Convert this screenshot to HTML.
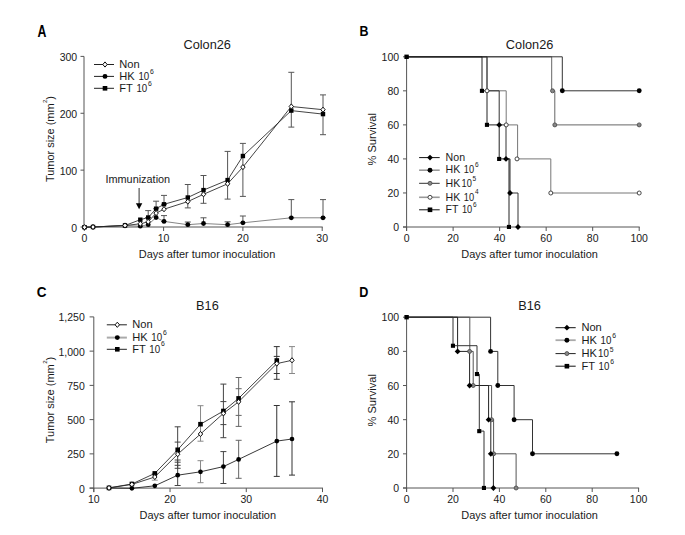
<!DOCTYPE html>
<html><head><meta charset="utf-8"><style>
html,body{margin:0;padding:0;background:#fff;}
svg{display:block;font-family:"Liberation Sans", sans-serif;}
</style></head><body>
<svg width="685" height="535" viewBox="0 0 685 535">
<rect width="685" height="535" fill="#fff"/>
<text x="0" y="0" font-size="16.2" font-weight="bold" fill="#000" transform="translate(37.4,36.6) scale(0.76,1)">A</text>
<text x="207.2" y="48.7" font-size="12.2" text-anchor="middle" textLength="47.5" lengthAdjust="spacingAndGlyphs" fill="#1a1a1a">Colon26</text>
<line x1="84" y1="56.4" x2="84" y2="227.5" stroke="#555" stroke-width="1"/>
<line x1="84" y1="227.0" x2="322.7" y2="227.0" stroke="#555" stroke-width="1"/>
<line x1="80.5" y1="227.0" x2="84" y2="227.0" stroke="#555" stroke-width="1"/>
<text x="77.2" y="231.6" font-size="10.5" text-anchor="end" fill="#1a1a1a">0</text>
<line x1="80.5" y1="170.13333333333333" x2="84" y2="170.13333333333333" stroke="#555" stroke-width="1"/>
<text x="77.2" y="174.73333333333332" font-size="10.5" text-anchor="end" fill="#1a1a1a">100</text>
<line x1="80.5" y1="113.26666666666667" x2="84" y2="113.26666666666667" stroke="#555" stroke-width="1"/>
<text x="77.2" y="117.86666666666666" font-size="10.5" text-anchor="end" fill="#1a1a1a">200</text>
<line x1="80.5" y1="56.400000000000006" x2="84" y2="56.400000000000006" stroke="#555" stroke-width="1"/>
<text x="77.2" y="61.00000000000001" font-size="10.5" text-anchor="end" fill="#1a1a1a">300</text>
<line x1="84.3" y1="227.0" x2="84.3" y2="231.0" stroke="#555" stroke-width="1"/>
<text x="84.3" y="241.8" font-size="10.5" text-anchor="middle" fill="#1a1a1a">0</text>
<line x1="163.6" y1="227.0" x2="163.6" y2="231.0" stroke="#555" stroke-width="1"/>
<text x="163.6" y="241.8" font-size="10.5" text-anchor="middle" fill="#1a1a1a">10</text>
<line x1="242.89999999999998" y1="227.0" x2="242.89999999999998" y2="231.0" stroke="#555" stroke-width="1"/>
<text x="242.89999999999998" y="241.8" font-size="10.5" text-anchor="middle" fill="#1a1a1a">20</text>
<line x1="322.2" y1="227.0" x2="322.2" y2="231.0" stroke="#555" stroke-width="1"/>
<text x="322.2" y="241.8" font-size="10.5" text-anchor="middle" fill="#1a1a1a">30</text>
<text x="207.0" y="258" font-size="10.9" text-anchor="middle" textLength="136.5" lengthAdjust="spacingAndGlyphs" fill="#1a1a1a">Days after tumor inoculation</text>
<text transform="translate(53.8,139) rotate(-90)" font-size="10.9" text-anchor="middle" textLength="86" lengthAdjust="spacingAndGlyphs" fill="#1a1a1a">Tumor size (mm<tspan dx="0.5" dy="-7" font-size="6">2</tspan><tspan dy="7">)</tspan></text>
<line x1="94" y1="64.5" x2="114" y2="64.5" stroke="#222" stroke-width="1"/>
<path d="M105.0,61.9L107.2,64.5L105.0,67.1L102.8,64.5Z" fill="#fff" stroke="#111" stroke-width="1"/>
<text x="0" y="0" font-size="10.6" fill="#1a1a1a" word-spacing="0.6" transform="translate(119.3,68.1) scale(1.05,1)">Non</text>
<line x1="94" y1="76.4" x2="114" y2="76.4" stroke="#222" stroke-width="1"/>
<circle cx="105.0" cy="76.4" r="2.45" fill="#000"/>
<text x="0" y="0" font-size="10.6" fill="#1a1a1a" word-spacing="0.6" transform="translate(119.3,80.0) scale(1.05,1)">HK <tspan textLength="10.3" lengthAdjust="spacingAndGlyphs">10</tspan><tspan dx="0.8" dy="-6.0" font-size="6.5">6</tspan></text>
<line x1="94" y1="88.3" x2="114" y2="88.3" stroke="#222" stroke-width="1"/>
<rect x="102.7" y="86.0" width="4.6" height="4.6" fill="#000"/>
<text x="0" y="0" font-size="10.6" fill="#1a1a1a" word-spacing="0.6" transform="translate(119.3,91.89999999999999) scale(1.05,1)">FT <tspan textLength="10.3" lengthAdjust="spacingAndGlyphs">10</tspan><tspan dx="0.8" dy="-6.0" font-size="6.5">6</tspan></text>
<text x="137.8" y="182.9" font-size="10.9" text-anchor="middle" fill="#1a1a1a">Immunization</text>
<line x1="139.1" y1="188" x2="139.1" y2="204" stroke="#333" stroke-width="1"/>
<path d="M135.9,203.2L142.3,203.2L139.1,209.2Z" fill="#000"/>
<line x1="148.2" y1="210.6" x2="148.2" y2="217.5" stroke="#555" stroke-width="1"/>
<line x1="145.2" y1="210.6" x2="151.2" y2="210.6" stroke="#555" stroke-width="1"/>
<line x1="145.2" y1="217.5" x2="151.2" y2="217.5" stroke="#555" stroke-width="1"/>
<line x1="156.1" y1="201.2" x2="156.1" y2="208.7" stroke="#555" stroke-width="1"/>
<line x1="153.1" y1="201.2" x2="159.1" y2="201.2" stroke="#555" stroke-width="1"/>
<line x1="153.1" y1="208.7" x2="159.1" y2="208.7" stroke="#555" stroke-width="1"/>
<line x1="164.0" y1="195.4" x2="164.0" y2="204.3" stroke="#555" stroke-width="1"/>
<line x1="161.0" y1="195.4" x2="167.0" y2="195.4" stroke="#555" stroke-width="1"/>
<line x1="161.0" y1="204.3" x2="167.0" y2="204.3" stroke="#555" stroke-width="1"/>
<line x1="187.8" y1="184.5" x2="187.8" y2="207.9" stroke="#555" stroke-width="1"/>
<line x1="184.8" y1="184.5" x2="190.8" y2="184.5" stroke="#555" stroke-width="1"/>
<line x1="184.8" y1="207.9" x2="190.8" y2="207.9" stroke="#555" stroke-width="1"/>
<line x1="203.5" y1="175.5" x2="203.5" y2="203.3" stroke="#555" stroke-width="1"/>
<line x1="200.5" y1="175.5" x2="206.5" y2="175.5" stroke="#555" stroke-width="1"/>
<line x1="200.5" y1="203.3" x2="206.5" y2="203.3" stroke="#555" stroke-width="1"/>
<line x1="227.6" y1="151.4" x2="227.6" y2="199.1" stroke="#555" stroke-width="1"/>
<line x1="224.6" y1="151.4" x2="230.6" y2="151.4" stroke="#555" stroke-width="1"/>
<line x1="224.6" y1="199.1" x2="230.6" y2="199.1" stroke="#555" stroke-width="1"/>
<line x1="242.9" y1="143.4" x2="242.9" y2="196.4" stroke="#555" stroke-width="1"/>
<line x1="239.9" y1="143.4" x2="245.9" y2="143.4" stroke="#555" stroke-width="1"/>
<line x1="239.9" y1="196.4" x2="245.9" y2="196.4" stroke="#555" stroke-width="1"/>
<line x1="291.3" y1="72.3" x2="291.3" y2="127.1" stroke="#555" stroke-width="1"/>
<line x1="288.3" y1="72.3" x2="294.3" y2="72.3" stroke="#555" stroke-width="1"/>
<line x1="288.3" y1="127.1" x2="294.3" y2="127.1" stroke="#555" stroke-width="1"/>
<line x1="323.0" y1="94.9" x2="323.0" y2="134.7" stroke="#555" stroke-width="1"/>
<line x1="320.0" y1="94.9" x2="326.0" y2="94.9" stroke="#555" stroke-width="1"/>
<line x1="320.0" y1="134.7" x2="326.0" y2="134.7" stroke="#555" stroke-width="1"/>
<line x1="164.0" y1="215.6" x2="164.0" y2="221.4" stroke="#555" stroke-width="1"/>
<line x1="161.0" y1="215.6" x2="167.0" y2="215.6" stroke="#555" stroke-width="1"/>
<line x1="161.0" y1="221.4" x2="167.0" y2="221.4" stroke="#555" stroke-width="1"/>
<line x1="187.8" y1="222" x2="187.8" y2="224.7" stroke="#555" stroke-width="1"/>
<line x1="184.8" y1="222" x2="190.8" y2="222" stroke="#555" stroke-width="1"/>
<line x1="184.8" y1="224.7" x2="190.8" y2="224.7" stroke="#555" stroke-width="1"/>
<line x1="203.5" y1="217.8" x2="203.5" y2="223.5" stroke="#555" stroke-width="1"/>
<line x1="200.5" y1="217.8" x2="206.5" y2="217.8" stroke="#555" stroke-width="1"/>
<line x1="200.5" y1="223.5" x2="206.5" y2="223.5" stroke="#555" stroke-width="1"/>
<line x1="227.6" y1="221.8" x2="227.6" y2="224.7" stroke="#555" stroke-width="1"/>
<line x1="224.6" y1="221.8" x2="230.6" y2="221.8" stroke="#555" stroke-width="1"/>
<line x1="224.6" y1="224.7" x2="230.6" y2="224.7" stroke="#555" stroke-width="1"/>
<line x1="242.9" y1="216" x2="242.9" y2="222.8" stroke="#555" stroke-width="1"/>
<line x1="239.9" y1="216" x2="245.9" y2="216" stroke="#555" stroke-width="1"/>
<line x1="239.9" y1="222.8" x2="245.9" y2="222.8" stroke="#555" stroke-width="1"/>
<line x1="291.3" y1="199.6" x2="291.3" y2="217.8" stroke="#555" stroke-width="1"/>
<line x1="288.3" y1="199.6" x2="294.3" y2="199.6" stroke="#555" stroke-width="1"/>
<line x1="288.3" y1="217.8" x2="294.3" y2="217.8" stroke="#555" stroke-width="1"/>
<line x1="323.0" y1="199.6" x2="323.0" y2="217.8" stroke="#555" stroke-width="1"/>
<line x1="320.0" y1="199.6" x2="326.0" y2="199.6" stroke="#555" stroke-width="1"/>
<line x1="320.0" y1="217.8" x2="326.0" y2="217.8" stroke="#555" stroke-width="1"/>
<polyline points="84.5,227.2 93.0,227.0 125.0,225.5 140.3,226.2 148.2,224.7 156.1,217.5 164.0,221.4 187.8,224.7 203.5,223.5 227.6,224.7 242.9,222.8 291.3,217.8 323.0,217.8" fill="none" stroke="#777" stroke-width="0.9" stroke-linejoin="miter"/>
<polyline points="84.5,227.2 93.0,227.0 125.0,225.5 140.3,219.7 148.2,217.5 156.1,208.7 164.0,204.3 187.8,197.5 203.5,190.1 227.6,180.1 242.9,156.0 291.3,110.6 323.0,114.1" fill="none" stroke="#222" stroke-width="0.85" stroke-linejoin="miter"/>
<polyline points="84.5,227.2 93.0,227.0 125.0,225.5 140.3,223.8 148.2,221.8 156.1,213.1 164.0,209.2 187.8,201.6 203.5,194.3 227.6,183.8 242.9,167.1 291.3,106.5 323.0,109.7" fill="none" stroke="#222" stroke-width="0.85" stroke-linejoin="miter"/>
<circle cx="84.5" cy="227.2" r="2.4" fill="#000"/>
<circle cx="93.0" cy="227.0" r="2.4" fill="#000"/>
<circle cx="125.0" cy="225.5" r="2.4" fill="#000"/>
<circle cx="140.3" cy="226.2" r="2.4" fill="#000"/>
<circle cx="148.2" cy="224.7" r="2.4" fill="#000"/>
<circle cx="156.1" cy="217.5" r="2.4" fill="#000"/>
<circle cx="164.0" cy="221.4" r="2.4" fill="#000"/>
<circle cx="187.8" cy="224.7" r="2.4" fill="#000"/>
<circle cx="203.5" cy="223.5" r="2.4" fill="#000"/>
<circle cx="227.6" cy="224.7" r="2.4" fill="#000"/>
<circle cx="242.9" cy="222.8" r="2.4" fill="#000"/>
<circle cx="291.3" cy="217.8" r="2.4" fill="#000"/>
<circle cx="323.0" cy="217.8" r="2.4" fill="#000"/>
<rect x="82.3" y="225.0" width="4.4" height="4.4" fill="#000"/>
<rect x="90.8" y="224.8" width="4.4" height="4.4" fill="#000"/>
<rect x="122.8" y="223.3" width="4.4" height="4.4" fill="#000"/>
<rect x="138.1" y="217.5" width="4.4" height="4.4" fill="#000"/>
<rect x="146.0" y="215.3" width="4.4" height="4.4" fill="#000"/>
<rect x="153.9" y="206.5" width="4.4" height="4.4" fill="#000"/>
<rect x="161.8" y="202.1" width="4.4" height="4.4" fill="#000"/>
<rect x="185.6" y="195.3" width="4.4" height="4.4" fill="#000"/>
<rect x="201.3" y="187.9" width="4.4" height="4.4" fill="#000"/>
<rect x="225.4" y="177.9" width="4.4" height="4.4" fill="#000"/>
<rect x="240.7" y="153.8" width="4.4" height="4.4" fill="#000"/>
<rect x="289.1" y="108.4" width="4.4" height="4.4" fill="#000"/>
<rect x="320.8" y="111.9" width="4.4" height="4.4" fill="#000"/>
<path d="M84.5,224.6L86.7,227.2L84.5,229.8L82.3,227.2Z" fill="#fff" stroke="#111" stroke-width="1"/>
<path d="M93.0,224.4L95.2,227.0L93.0,229.6L90.8,227.0Z" fill="#fff" stroke="#111" stroke-width="1"/>
<path d="M125.0,222.9L127.2,225.5L125.0,228.1L122.8,225.5Z" fill="#fff" stroke="#111" stroke-width="1"/>
<path d="M140.3,221.2L142.5,223.8L140.3,226.4L138.1,223.8Z" fill="#fff" stroke="#111" stroke-width="1"/>
<path d="M148.2,219.2L150.4,221.8L148.2,224.4L146.0,221.8Z" fill="#fff" stroke="#111" stroke-width="1"/>
<path d="M156.1,210.5L158.3,213.1L156.1,215.7L153.9,213.1Z" fill="#fff" stroke="#111" stroke-width="1"/>
<path d="M164.0,206.6L166.2,209.2L164.0,211.8L161.8,209.2Z" fill="#fff" stroke="#111" stroke-width="1"/>
<path d="M187.8,199.0L190.0,201.6L187.8,204.2L185.6,201.6Z" fill="#fff" stroke="#111" stroke-width="1"/>
<path d="M203.5,191.7L205.7,194.3L203.5,196.9L201.3,194.3Z" fill="#fff" stroke="#111" stroke-width="1"/>
<path d="M227.6,181.2L229.8,183.8L227.6,186.4L225.4,183.8Z" fill="#fff" stroke="#111" stroke-width="1"/>
<path d="M242.9,164.5L245.1,167.1L242.9,169.7L240.7,167.1Z" fill="#fff" stroke="#111" stroke-width="1"/>
<path d="M291.3,103.9L293.5,106.5L291.3,109.1L289.1,106.5Z" fill="#fff" stroke="#111" stroke-width="1"/>
<path d="M323.0,107.1L325.2,109.7L323.0,112.3L320.8,109.7Z" fill="#fff" stroke="#111" stroke-width="1"/>
<text x="0" y="0" font-size="14.8" font-weight="bold" fill="#000" transform="translate(359.4,36.3) scale(0.84,1)">B</text>
<text x="529.6" y="48.7" font-size="12.2" text-anchor="middle" textLength="47.5" lengthAdjust="spacingAndGlyphs" fill="#1a1a1a">Colon26</text>
<line x1="406.6" y1="56.8" x2="406.6" y2="231.0" stroke="#555" stroke-width="1"/>
<line x1="403" y1="227.0" x2="639.7" y2="227.0" stroke="#555" stroke-width="1"/>
<line x1="403" y1="227.0" x2="406.6" y2="227.0" stroke="#555" stroke-width="1"/>
<text x="399.1" y="231.1" font-size="10.5" text-anchor="end" fill="#1a1a1a">0</text>
<line x1="403" y1="192.96" x2="406.6" y2="192.96" stroke="#555" stroke-width="1"/>
<text x="399.1" y="197.06" font-size="10.5" text-anchor="end" fill="#1a1a1a">20</text>
<line x1="403" y1="158.92000000000002" x2="406.6" y2="158.92000000000002" stroke="#555" stroke-width="1"/>
<text x="399.1" y="163.02" font-size="10.5" text-anchor="end" fill="#1a1a1a">40</text>
<line x1="403" y1="124.88" x2="406.6" y2="124.88" stroke="#555" stroke-width="1"/>
<text x="399.1" y="128.98" font-size="10.5" text-anchor="end" fill="#1a1a1a">60</text>
<line x1="403" y1="90.84" x2="406.6" y2="90.84" stroke="#555" stroke-width="1"/>
<text x="399.1" y="94.94" font-size="10.5" text-anchor="end" fill="#1a1a1a">80</text>
<line x1="403" y1="56.80000000000001" x2="406.6" y2="56.80000000000001" stroke="#555" stroke-width="1"/>
<text x="399.1" y="60.90000000000001" font-size="10.5" text-anchor="end" fill="#1a1a1a">100</text>
<line x1="406.6" y1="227.0" x2="406.6" y2="231.0" stroke="#555" stroke-width="1"/>
<text x="406.6" y="242" font-size="10.5" text-anchor="middle" fill="#1a1a1a">0</text>
<line x1="453.12" y1="227.0" x2="453.12" y2="231.0" stroke="#555" stroke-width="1"/>
<text x="453.12" y="242" font-size="10.5" text-anchor="middle" fill="#1a1a1a">20</text>
<line x1="499.64000000000004" y1="227.0" x2="499.64000000000004" y2="231.0" stroke="#555" stroke-width="1"/>
<text x="499.64000000000004" y="242" font-size="10.5" text-anchor="middle" fill="#1a1a1a">40</text>
<line x1="546.1600000000001" y1="227.0" x2="546.1600000000001" y2="231.0" stroke="#555" stroke-width="1"/>
<text x="546.1600000000001" y="242" font-size="10.5" text-anchor="middle" fill="#1a1a1a">60</text>
<line x1="592.6800000000001" y1="227.0" x2="592.6800000000001" y2="231.0" stroke="#555" stroke-width="1"/>
<text x="592.6800000000001" y="242" font-size="10.5" text-anchor="middle" fill="#1a1a1a">80</text>
<line x1="639.2" y1="227.0" x2="639.2" y2="231.0" stroke="#555" stroke-width="1"/>
<text x="639.2" y="242" font-size="10.5" text-anchor="middle" fill="#1a1a1a">100</text>
<text x="529.6" y="258" font-size="10.9" text-anchor="middle" textLength="136.5" lengthAdjust="spacingAndGlyphs" fill="#1a1a1a">Days after tumor inoculation</text>
<text x="0" y="0" font-size="10.9" text-anchor="middle" textLength="52.3" lengthAdjust="spacingAndGlyphs" fill="#1a1a1a" transform="translate(376.3,139.3) rotate(-90)">% Survival</text>
<polyline points="406.6,56.8 487.0,56.8 487.0,90.8 506.2,90.8 506.2,124.9 517.6,124.9 517.6,158.9 550.8,158.9 550.8,193.0 639.2,193.0" fill="none" stroke="#777" stroke-width="1" stroke-linejoin="miter"/>
<polyline points="406.6,56.8 551.7,56.8 551.7,90.8 554.8,90.8 554.8,124.9 639.2,124.9" fill="none" stroke="#666" stroke-width="1" stroke-linejoin="miter"/>
<polyline points="406.6,56.8 562.3,56.8 562.3,90.8 639.2,90.8" fill="none" stroke="#333" stroke-width="1" stroke-linejoin="miter"/>
<polyline points="406.6,56.8 487.0,56.8 487.0,90.8 499.2,90.8 499.2,124.9 506.0,124.9 506.0,158.9 510.0,158.9 510.0,193.0 518.0,193.0 518.0,227.0" fill="none" stroke="#333" stroke-width="1" stroke-linejoin="miter"/>
<polyline points="406.6,56.8 482.0,56.8 482.0,90.8 487.0,90.8 487.0,124.9 499.2,124.9 499.2,158.9 509.0,158.9 509.0,227.0" fill="none" stroke="#222" stroke-width="1" stroke-linejoin="miter"/>
<path d="M499.2,122.0L502.1,124.9L499.2,127.8L496.3,124.9Z" fill="#000"/>
<path d="M506.0,156.0L508.9,158.9L506.0,161.8L503.1,158.9Z" fill="#000"/>
<path d="M510.0,190.1L512.9,193.0L510.0,195.9L507.1,193.0Z" fill="#000"/>
<path d="M518.0,224.1L520.9,227.0L518.0,229.9L515.1,227.0Z" fill="#000"/>
<rect x="479.9" y="88.8" width="4.1" height="4.1" fill="#000"/>
<rect x="484.9" y="122.8" width="4.1" height="4.1" fill="#000"/>
<rect x="497.1" y="156.9" width="4.1" height="4.1" fill="#000"/>
<rect x="506.9" y="224.9" width="4.1" height="4.1" fill="#000"/>
<circle cx="487.0" cy="90.8" r="2.0" fill="#fff" stroke="#333" stroke-width="0.9"/>
<circle cx="506.2" cy="124.9" r="2.0" fill="#fff" stroke="#333" stroke-width="0.9"/>
<circle cx="517.0" cy="158.9" r="2.0" fill="#fff" stroke="#333" stroke-width="0.9"/>
<circle cx="550.8" cy="193.0" r="2.0" fill="#fff" stroke="#333" stroke-width="0.9"/>
<circle cx="639.2" cy="193.0" r="2.0" fill="#fff" stroke="#333" stroke-width="0.9"/>
<circle cx="552.5" cy="90.8" r="2.0" fill="#888" stroke="#444" stroke-width="0.8"/>
<circle cx="554.8" cy="124.9" r="2.0" fill="#888" stroke="#444" stroke-width="0.8"/>
<circle cx="639.2" cy="124.9" r="2.0" fill="#888" stroke="#444" stroke-width="0.8"/>
<circle cx="562.3" cy="90.8" r="2.45" fill="#000"/>
<circle cx="639.2" cy="90.8" r="2.45" fill="#000"/>
<rect x="404.4" y="54.6" width="4.4" height="4.4" fill="#000"/>
<line x1="419.1" y1="157.6" x2="439.7" y2="157.6" stroke="#111" stroke-width="1"/>
<path d="M430.0,154.7L432.9,157.6L430.0,160.5L427.1,157.6Z" fill="#000"/>
<text x="0" y="0" font-size="10.6" fill="#1a1a1a" word-spacing="0.6" transform="translate(445.6,160.8) scale(1.0,1)">Non</text>
<line x1="419.1" y1="170.2" x2="439.7" y2="170.2" stroke="#999" stroke-width="1.6"/>
<circle cx="430.0" cy="170.2" r="2.45" fill="#000"/>
<text x="0" y="0" font-size="10.6" fill="#1a1a1a" word-spacing="0.6" transform="translate(445.6,173.4) scale(1.0,1)">HK <tspan textLength="10.3" lengthAdjust="spacingAndGlyphs">10</tspan><tspan dx="0.8" dy="-6.2" font-size="6.5">6</tspan></text>
<line x1="419.1" y1="183.3" x2="439.7" y2="183.3" stroke="#333" stroke-width="1"/>
<circle cx="430.0" cy="183.3" r="2.0" fill="#888" stroke="#444" stroke-width="0.8"/>
<text x="0" y="0" font-size="10.6" fill="#1a1a1a" word-spacing="0.6" transform="translate(445.6,187.0) scale(1.0,1)">HK<tspan dx="1.2"><tspan textLength="10.3" lengthAdjust="spacingAndGlyphs">10</tspan></tspan><tspan dx="0.8" dy="-6.2" font-size="6.5">5</tspan></text>
<line x1="419.1" y1="197.3" x2="439.7" y2="197.3" stroke="#999" stroke-width="1.6"/>
<circle cx="430.0" cy="197.3" r="2.0" fill="#fff" stroke="#333" stroke-width="0.9"/>
<text x="0" y="0" font-size="10.6" fill="#1a1a1a" word-spacing="0.6" transform="translate(445.6,200.6) scale(1.0,1)">HK <tspan textLength="10.3" lengthAdjust="spacingAndGlyphs">10</tspan><tspan dx="0.8" dy="-6.2" font-size="6.5">4</tspan></text>
<line x1="419.1" y1="209.8" x2="439.7" y2="209.8" stroke="#111" stroke-width="1"/>
<rect x="427.7" y="207.5" width="4.6" height="4.6" fill="#000"/>
<text x="0" y="0" font-size="10.6" fill="#1a1a1a" word-spacing="0.6" transform="translate(445.6,213.4) scale(1.0,1)">FT <tspan textLength="10.3" lengthAdjust="spacingAndGlyphs">10</tspan><tspan dx="0.8" dy="-6.2" font-size="6.5">6</tspan></text>
<text x="0" y="0" font-size="15" font-weight="bold" fill="#000" transform="translate(36.8,297.3) scale(0.9,1)">C</text>
<text x="207.4" y="309.7" font-size="12.2" text-anchor="middle" textLength="22.6" lengthAdjust="spacingAndGlyphs" fill="#1a1a1a">B16</text>
<line x1="93.8" y1="316.9" x2="93.8" y2="492.1" stroke="#555" stroke-width="1"/>
<line x1="89.6" y1="488.1" x2="323.0" y2="488.1" stroke="#555" stroke-width="1"/>
<line x1="89.6" y1="488.1" x2="93.8" y2="488.1" stroke="#555" stroke-width="1"/>
<text x="84.8" y="492.6" font-size="10.5" text-anchor="end" fill="#1a1a1a">0</text>
<line x1="89.6" y1="453.86" x2="93.8" y2="453.86" stroke="#555" stroke-width="1"/>
<text x="84.8" y="458.36" font-size="10.5" text-anchor="end" fill="#1a1a1a">250</text>
<line x1="89.6" y1="419.62" x2="93.8" y2="419.62" stroke="#555" stroke-width="1"/>
<text x="84.8" y="424.12" font-size="10.5" text-anchor="end" fill="#1a1a1a">500</text>
<line x1="89.6" y1="385.38" x2="93.8" y2="385.38" stroke="#555" stroke-width="1"/>
<text x="84.8" y="389.88" font-size="10.5" text-anchor="end" fill="#1a1a1a">750</text>
<line x1="89.6" y1="351.14" x2="93.8" y2="351.14" stroke="#555" stroke-width="1"/>
<text x="84.8" y="355.64" font-size="10.5" text-anchor="end" fill="#1a1a1a">1,000</text>
<line x1="89.6" y1="316.9" x2="93.8" y2="316.9" stroke="#555" stroke-width="1"/>
<text x="84.8" y="321.4" font-size="10.5" text-anchor="end" fill="#1a1a1a">1,250</text>
<line x1="93.8" y1="488.1" x2="93.8" y2="492.1" stroke="#555" stroke-width="1"/>
<text x="93.8" y="502.6" font-size="10.5" text-anchor="middle" fill="#1a1a1a">10</text>
<line x1="170.03333333333333" y1="488.1" x2="170.03333333333333" y2="492.1" stroke="#555" stroke-width="1"/>
<text x="170.03333333333333" y="502.6" font-size="10.5" text-anchor="middle" fill="#1a1a1a">20</text>
<line x1="246.26666666666665" y1="488.1" x2="246.26666666666665" y2="492.1" stroke="#555" stroke-width="1"/>
<text x="246.26666666666665" y="502.6" font-size="10.5" text-anchor="middle" fill="#1a1a1a">30</text>
<line x1="322.5" y1="488.1" x2="322.5" y2="492.1" stroke="#555" stroke-width="1"/>
<text x="322.5" y="502.6" font-size="10.5" text-anchor="middle" fill="#1a1a1a">40</text>
<text x="207.8" y="519.1" font-size="10.9" text-anchor="middle" textLength="136.5" lengthAdjust="spacingAndGlyphs" fill="#1a1a1a">Days after tumor inoculation</text>
<text transform="translate(54,400) rotate(-90)" font-size="10.9" text-anchor="middle" textLength="86.5" lengthAdjust="spacingAndGlyphs" fill="#1a1a1a">Tumor size (mm<tspan dx="0.5" dy="-7" font-size="6">2</tspan><tspan dy="7">)</tspan></text>
<line x1="106.8" y1="324.8" x2="126.9" y2="324.8" stroke="#222" stroke-width="1"/>
<path d="M117.3,322.2L119.5,324.8L117.3,327.4L115.1,324.8Z" fill="#fff" stroke="#111" stroke-width="1"/>
<text x="0" y="0" font-size="10.6" fill="#1a1a1a" word-spacing="0.6" transform="translate(132.2,328.40000000000003) scale(1.05,1)">Non</text>
<line x1="106.8" y1="337.6" x2="126.9" y2="337.6" stroke="#aaa" stroke-width="2"/>
<circle cx="117.3" cy="337.6" r="2.45" fill="#000"/>
<text x="0" y="0" font-size="10.6" fill="#1a1a1a" word-spacing="0.6" transform="translate(132.2,341.20000000000005) scale(1.05,1)">HK <tspan textLength="10.3" lengthAdjust="spacingAndGlyphs">10</tspan><tspan dx="0.8" dy="-6.6" font-size="6.5">6</tspan></text>
<line x1="106.8" y1="349.3" x2="126.9" y2="349.3" stroke="#222" stroke-width="1"/>
<rect x="115.0" y="347.0" width="4.6" height="4.6" fill="#000"/>
<text x="0" y="0" font-size="10.6" fill="#1a1a1a" word-spacing="0.6" transform="translate(132.2,352.90000000000003) scale(1.05,1)">FT <tspan textLength="10.3" lengthAdjust="spacingAndGlyphs">10</tspan><tspan dx="0.8" dy="-6.6" font-size="6.5">6</tspan></text>
<line x1="154.78666666666666" y1="473.4" x2="154.78666666666666" y2="480.2" stroke="#999" stroke-width="1"/>
<line x1="151.78666666666666" y1="473.4" x2="157.78666666666666" y2="473.4" stroke="#999" stroke-width="1"/>
<line x1="151.78666666666666" y1="480.2" x2="157.78666666666666" y2="480.2" stroke="#999" stroke-width="1"/>
<line x1="177.65666666666664" y1="426.8" x2="177.65666666666664" y2="468.3" stroke="#444" stroke-width="1"/>
<line x1="174.65666666666664" y1="426.8" x2="180.65666666666664" y2="426.8" stroke="#444" stroke-width="1"/>
<line x1="174.65666666666664" y1="442.1" x2="180.65666666666664" y2="442.1" stroke="#444" stroke-width="1"/>
<line x1="174.65666666666664" y1="462.2" x2="180.65666666666664" y2="462.2" stroke="#444" stroke-width="1"/>
<line x1="174.65666666666664" y1="465.3" x2="180.65666666666664" y2="465.3" stroke="#444" stroke-width="1"/>
<line x1="174.65666666666664" y1="468.3" x2="180.65666666666664" y2="468.3" stroke="#444" stroke-width="1"/>
<line x1="177.65666666666664" y1="460" x2="177.65666666666664" y2="485.5" stroke="#444" stroke-width="1"/>
<line x1="174.65666666666664" y1="460" x2="180.65666666666664" y2="460" stroke="#444" stroke-width="1"/>
<line x1="174.65666666666664" y1="485.5" x2="180.65666666666664" y2="485.5" stroke="#444" stroke-width="1"/>
<line x1="200.52666666666664" y1="405.7" x2="200.52666666666664" y2="441.2" stroke="#888" stroke-width="1"/>
<line x1="197.52666666666664" y1="405.7" x2="203.52666666666664" y2="405.7" stroke="#888" stroke-width="1"/>
<line x1="197.52666666666664" y1="441.2" x2="203.52666666666664" y2="441.2" stroke="#888" stroke-width="1"/>
<line x1="200.52666666666664" y1="460.7" x2="200.52666666666664" y2="482.7" stroke="#888" stroke-width="1"/>
<line x1="197.52666666666664" y1="460.7" x2="203.52666666666664" y2="460.7" stroke="#888" stroke-width="1"/>
<line x1="197.52666666666664" y1="482.7" x2="203.52666666666664" y2="482.7" stroke="#888" stroke-width="1"/>
<line x1="223.39666666666665" y1="384.1" x2="223.39666666666665" y2="437.7" stroke="#444" stroke-width="1"/>
<line x1="220.39666666666665" y1="384.1" x2="226.39666666666665" y2="384.1" stroke="#444" stroke-width="1"/>
<line x1="220.39666666666665" y1="401.6" x2="226.39666666666665" y2="401.6" stroke="#444" stroke-width="1"/>
<line x1="220.39666666666665" y1="424.6" x2="226.39666666666665" y2="424.6" stroke="#444" stroke-width="1"/>
<line x1="220.39666666666665" y1="437.7" x2="226.39666666666665" y2="437.7" stroke="#444" stroke-width="1"/>
<line x1="223.39666666666665" y1="451.6" x2="223.39666666666665" y2="483.5" stroke="#444" stroke-width="1"/>
<line x1="220.39666666666665" y1="451.6" x2="226.39666666666665" y2="451.6" stroke="#444" stroke-width="1"/>
<line x1="220.39666666666665" y1="483.5" x2="226.39666666666665" y2="483.5" stroke="#444" stroke-width="1"/>
<line x1="238.64333333333332" y1="377.5" x2="238.64333333333332" y2="426.4" stroke="#666" stroke-width="1"/>
<line x1="235.64333333333332" y1="377.5" x2="241.64333333333332" y2="377.5" stroke="#666" stroke-width="1"/>
<line x1="235.64333333333332" y1="388.7" x2="241.64333333333332" y2="388.7" stroke="#666" stroke-width="1"/>
<line x1="235.64333333333332" y1="415.4" x2="241.64333333333332" y2="415.4" stroke="#666" stroke-width="1"/>
<line x1="235.64333333333332" y1="426.4" x2="241.64333333333332" y2="426.4" stroke="#666" stroke-width="1"/>
<line x1="238.64333333333332" y1="440.3" x2="238.64333333333332" y2="478.3" stroke="#666" stroke-width="1"/>
<line x1="235.64333333333332" y1="440.3" x2="241.64333333333332" y2="440.3" stroke="#666" stroke-width="1"/>
<line x1="235.64333333333332" y1="478.3" x2="241.64333333333332" y2="478.3" stroke="#666" stroke-width="1"/>
<line x1="276.76" y1="346.6" x2="276.76" y2="379.3" stroke="#333" stroke-width="1"/>
<line x1="273.76" y1="346.6" x2="279.76" y2="346.6" stroke="#333" stroke-width="1"/>
<line x1="273.76" y1="356.4" x2="279.76" y2="356.4" stroke="#333" stroke-width="1"/>
<line x1="273.76" y1="373.5" x2="279.76" y2="373.5" stroke="#333" stroke-width="1"/>
<line x1="273.76" y1="379.3" x2="279.76" y2="379.3" stroke="#333" stroke-width="1"/>
<line x1="276.76" y1="405.5" x2="276.76" y2="476.4" stroke="#333" stroke-width="1"/>
<line x1="273.76" y1="405.5" x2="279.76" y2="405.5" stroke="#333" stroke-width="1"/>
<line x1="273.76" y1="476.4" x2="279.76" y2="476.4" stroke="#333" stroke-width="1"/>
<line x1="292.00666666666666" y1="346.6" x2="292.00666666666666" y2="373.5" stroke="#888" stroke-width="1"/>
<line x1="289.00666666666666" y1="346.6" x2="295.00666666666666" y2="346.6" stroke="#888" stroke-width="1"/>
<line x1="289.00666666666666" y1="373.5" x2="295.00666666666666" y2="373.5" stroke="#888" stroke-width="1"/>
<line x1="292.00666666666666" y1="401.8" x2="292.00666666666666" y2="475.1" stroke="#333" stroke-width="1"/>
<line x1="289.00666666666666" y1="401.8" x2="295.00666666666666" y2="401.8" stroke="#333" stroke-width="1"/>
<line x1="289.00666666666666" y1="475.1" x2="295.00666666666666" y2="475.1" stroke="#333" stroke-width="1"/>
<polyline points="109.0,488.0 131.9,488.3 154.8,485.8 177.7,475.2 200.5,471.8 223.4,466.6 238.6,459.4 276.8,441.1 292.0,439.0" fill="none" stroke="#222" stroke-width="0.9" stroke-linejoin="miter"/>
<polyline points="109.0,487.9 131.9,484.0 154.8,473.4 177.7,449.8 200.5,424.2 223.4,411.0 238.6,398.4 276.8,360.5" fill="none" stroke="#222" stroke-width="0.85" stroke-linejoin="miter"/>
<polyline points="109.0,487.9 131.9,484.4 154.8,477.0 177.7,454.2 200.5,434.0 223.4,413.4 238.6,401.8 276.8,363.6 292.0,360.3" fill="none" stroke="#222" stroke-width="0.85" stroke-linejoin="miter"/>
<circle cx="109.0" cy="488.0" r="2.35" fill="#000"/>
<circle cx="131.9" cy="488.3" r="2.35" fill="#000"/>
<circle cx="154.8" cy="485.8" r="2.35" fill="#000"/>
<circle cx="177.7" cy="475.2" r="2.35" fill="#000"/>
<circle cx="200.5" cy="471.8" r="2.35" fill="#000"/>
<circle cx="223.4" cy="466.6" r="2.35" fill="#000"/>
<circle cx="238.6" cy="459.4" r="2.35" fill="#000"/>
<circle cx="276.8" cy="441.1" r="2.35" fill="#000"/>
<circle cx="292.0" cy="439.0" r="2.35" fill="#000"/>
<rect x="106.7" y="485.6" width="4.6" height="4.6" fill="#000"/>
<rect x="129.6" y="481.7" width="4.6" height="4.6" fill="#000"/>
<rect x="152.5" y="471.1" width="4.6" height="4.6" fill="#000"/>
<rect x="175.4" y="447.5" width="4.6" height="4.6" fill="#000"/>
<rect x="198.2" y="421.9" width="4.6" height="4.6" fill="#000"/>
<rect x="221.1" y="408.7" width="4.6" height="4.6" fill="#000"/>
<rect x="236.3" y="396.1" width="4.6" height="4.6" fill="#000"/>
<rect x="274.5" y="358.2" width="4.6" height="4.6" fill="#000"/>
<path d="M109.0,485.3L111.2,487.9L109.0,490.5L106.8,487.9Z" fill="#fff" stroke="#111" stroke-width="1"/>
<path d="M131.9,481.8L134.1,484.4L131.9,487.0L129.7,484.4Z" fill="#fff" stroke="#111" stroke-width="1"/>
<path d="M154.8,474.4L157.0,477.0L154.8,479.6L152.6,477.0Z" fill="#fff" stroke="#111" stroke-width="1"/>
<path d="M177.7,451.6L179.9,454.2L177.7,456.8L175.5,454.2Z" fill="#fff" stroke="#111" stroke-width="1"/>
<path d="M200.5,431.4L202.7,434.0L200.5,436.6L198.3,434.0Z" fill="#fff" stroke="#111" stroke-width="1"/>
<path d="M223.4,410.8L225.6,413.4L223.4,416.0L221.2,413.4Z" fill="#fff" stroke="#111" stroke-width="1"/>
<path d="M238.6,399.2L240.8,401.8L238.6,404.4L236.4,401.8Z" fill="#fff" stroke="#111" stroke-width="1"/>
<path d="M276.8,361.0L279.0,363.6L276.8,366.2L274.6,363.6Z" fill="#fff" stroke="#111" stroke-width="1"/>
<path d="M292.0,357.7L294.2,360.3L292.0,362.9L289.8,360.3Z" fill="#fff" stroke="#111" stroke-width="1"/>
<text x="0" y="0" font-size="15" font-weight="bold" fill="#000" transform="translate(359.3,297.2) scale(0.84,1)">D</text>
<text x="529.6" y="309.7" font-size="12.2" text-anchor="middle" textLength="22.6" lengthAdjust="spacingAndGlyphs" fill="#1a1a1a">B16</text>
<line x1="406.6" y1="317.2" x2="406.6" y2="492.0" stroke="#555" stroke-width="1"/>
<line x1="403" y1="488.0" x2="639.1" y2="488.0" stroke="#555" stroke-width="1"/>
<line x1="403" y1="488.0" x2="406.6" y2="488.0" stroke="#555" stroke-width="1"/>
<text x="399.1" y="492.1" font-size="10.5" text-anchor="end" fill="#1a1a1a">0</text>
<line x1="403" y1="453.84000000000003" x2="406.6" y2="453.84000000000003" stroke="#555" stroke-width="1"/>
<text x="399.1" y="457.94000000000005" font-size="10.5" text-anchor="end" fill="#1a1a1a">20</text>
<line x1="403" y1="419.68" x2="406.6" y2="419.68" stroke="#555" stroke-width="1"/>
<text x="399.1" y="423.78000000000003" font-size="10.5" text-anchor="end" fill="#1a1a1a">40</text>
<line x1="403" y1="385.52" x2="406.6" y2="385.52" stroke="#555" stroke-width="1"/>
<text x="399.1" y="389.62" font-size="10.5" text-anchor="end" fill="#1a1a1a">60</text>
<line x1="403" y1="351.36" x2="406.6" y2="351.36" stroke="#555" stroke-width="1"/>
<text x="399.1" y="355.46000000000004" font-size="10.5" text-anchor="end" fill="#1a1a1a">80</text>
<line x1="403" y1="317.2" x2="406.6" y2="317.2" stroke="#555" stroke-width="1"/>
<text x="399.1" y="321.3" font-size="10.5" text-anchor="end" fill="#1a1a1a">100</text>
<line x1="406.6" y1="488.0" x2="406.6" y2="492.0" stroke="#555" stroke-width="1"/>
<text x="406.6" y="502.6" font-size="10.5" text-anchor="middle" fill="#1a1a1a">0</text>
<line x1="453.0" y1="488.0" x2="453.0" y2="492.0" stroke="#555" stroke-width="1"/>
<text x="453.0" y="502.6" font-size="10.5" text-anchor="middle" fill="#1a1a1a">20</text>
<line x1="499.40000000000003" y1="488.0" x2="499.40000000000003" y2="492.0" stroke="#555" stroke-width="1"/>
<text x="499.40000000000003" y="502.6" font-size="10.5" text-anchor="middle" fill="#1a1a1a">40</text>
<line x1="545.8" y1="488.0" x2="545.8" y2="492.0" stroke="#555" stroke-width="1"/>
<text x="545.8" y="502.6" font-size="10.5" text-anchor="middle" fill="#1a1a1a">60</text>
<line x1="592.2" y1="488.0" x2="592.2" y2="492.0" stroke="#555" stroke-width="1"/>
<text x="592.2" y="502.6" font-size="10.5" text-anchor="middle" fill="#1a1a1a">80</text>
<line x1="638.6" y1="488.0" x2="638.6" y2="492.0" stroke="#555" stroke-width="1"/>
<text x="638.6" y="502.6" font-size="10.5" text-anchor="middle" fill="#1a1a1a">100</text>
<text x="529.6" y="519.1" font-size="10.9" text-anchor="middle" textLength="136.5" lengthAdjust="spacingAndGlyphs" fill="#1a1a1a">Days after tumor inoculation</text>
<text x="0" y="0" font-size="10.9" text-anchor="middle" textLength="52.3" lengthAdjust="spacingAndGlyphs" fill="#1a1a1a" transform="translate(376.3,400.3) rotate(-90)">% Survival</text>
<polyline points="406.6,317.2 490.6,317.2 490.6,351.4 497.8,351.4 497.8,385.5 514.1,385.5 514.1,419.7 532.5,419.7 532.5,453.8 616.9,453.8" fill="none" stroke="#333" stroke-width="1" stroke-linejoin="miter"/>
<polyline points="406.6,317.2 469.8,317.2 469.8,351.4 473.2,351.4 473.2,385.5 491.6,385.5 491.6,419.7 493.6,419.7 493.6,453.8 516.1,453.8 516.1,488.0" fill="none" stroke="#555" stroke-width="1" stroke-linejoin="miter"/>
<polyline points="406.6,317.2 457.6,317.2 457.6,351.4 469.6,351.4 469.6,385.5 488.6,385.5 488.6,419.7 490.8,419.7 490.8,453.8 493.4,453.8 493.4,488.0" fill="none" stroke="#222" stroke-width="1" stroke-linejoin="miter"/>
<polyline points="406.6,317.2 453.0,317.2 453.0,345.7 477.0,345.7 477.0,374.1 479.3,374.1 479.3,431.1 484.0,431.1 484.0,488.0" fill="none" stroke="#333" stroke-width="1" stroke-linejoin="miter"/>
<circle cx="490.6" cy="351.4" r="2.45" fill="#000"/>
<circle cx="497.8" cy="385.5" r="2.45" fill="#000"/>
<circle cx="514.1" cy="419.7" r="2.45" fill="#000"/>
<circle cx="532.5" cy="453.8" r="2.45" fill="#000"/>
<circle cx="616.9" cy="453.8" r="2.45" fill="#000"/>
<circle cx="469.6" cy="351.4" r="2.0" fill="#888" stroke="#444" stroke-width="0.8"/>
<circle cx="473.2" cy="385.5" r="2.0" fill="#888" stroke="#444" stroke-width="0.8"/>
<circle cx="491.6" cy="419.7" r="2.0" fill="#888" stroke="#444" stroke-width="0.8"/>
<circle cx="493.6" cy="453.8" r="2.0" fill="#888" stroke="#444" stroke-width="0.8"/>
<circle cx="516.1" cy="488.0" r="2.0" fill="#888" stroke="#444" stroke-width="0.8"/>
<path d="M457.6,348.5L460.5,351.4L457.6,354.3L454.7,351.4Z" fill="#000"/>
<path d="M469.6,382.6L472.5,385.5L469.6,388.4L466.7,385.5Z" fill="#000"/>
<path d="M488.6,416.8L491.5,419.7L488.6,422.6L485.7,419.7Z" fill="#000"/>
<path d="M490.8,450.9L493.7,453.8L490.8,456.7L487.9,453.8Z" fill="#000"/>
<path d="M493.4,485.1L496.3,488.0L493.4,490.9L490.5,488.0Z" fill="#000"/>
<rect x="450.9" y="343.7" width="4.1" height="4.1" fill="#000"/>
<rect x="474.9" y="372.0" width="4.1" height="4.1" fill="#000"/>
<rect x="477.2" y="429.1" width="4.1" height="4.1" fill="#000"/>
<rect x="481.9" y="485.9" width="4.1" height="4.1" fill="#000"/>
<rect x="404.4" y="315.0" width="4.4" height="4.4" fill="#000"/>
<line x1="555.5" y1="327.7" x2="575.7" y2="327.7" stroke="#111" stroke-width="1"/>
<path d="M566.9,324.8L569.8,327.7L566.9,330.6L564.0,327.7Z" fill="#000"/>
<text x="0" y="0" font-size="10.6" fill="#1a1a1a" word-spacing="0.6" transform="translate(581.4,331.2) scale(1.05,1)">Non</text>
<line x1="555.5" y1="340.2" x2="575.7" y2="340.2" stroke="#aaa" stroke-width="1.8"/>
<circle cx="566.9" cy="340.2" r="2.45" fill="#000"/>
<text x="0" y="0" font-size="10.6" fill="#1a1a1a" word-spacing="0.6" transform="translate(581.4,343.7) scale(1.05,1)">HK <tspan textLength="10.3" lengthAdjust="spacingAndGlyphs">10</tspan><tspan dx="0.8" dy="-5.6" font-size="6.5">6</tspan></text>
<line x1="555.5" y1="353.6" x2="575.7" y2="353.6" stroke="#222" stroke-width="1"/>
<circle cx="566.9" cy="353.6" r="2.0" fill="#888" stroke="#444" stroke-width="0.8"/>
<text x="0" y="0" font-size="10.6" fill="#1a1a1a" word-spacing="0.6" transform="translate(581.4,357.1) scale(1.05,1)">HK<tspan dx="1.2"><tspan textLength="10.3" lengthAdjust="spacingAndGlyphs">10</tspan></tspan><tspan dx="0.8" dy="-5.6" font-size="6.5">5</tspan></text>
<line x1="555.5" y1="366.2" x2="575.7" y2="366.2" stroke="#111" stroke-width="1"/>
<rect x="564.6" y="363.9" width="4.6" height="4.6" fill="#000"/>
<text x="0" y="0" font-size="10.6" fill="#1a1a1a" word-spacing="0.6" transform="translate(581.4,369.7) scale(1.05,1)">FT <tspan textLength="10.3" lengthAdjust="spacingAndGlyphs">10</tspan><tspan dx="0.8" dy="-5.6" font-size="6.5">6</tspan></text>
</svg>
</body></html>
